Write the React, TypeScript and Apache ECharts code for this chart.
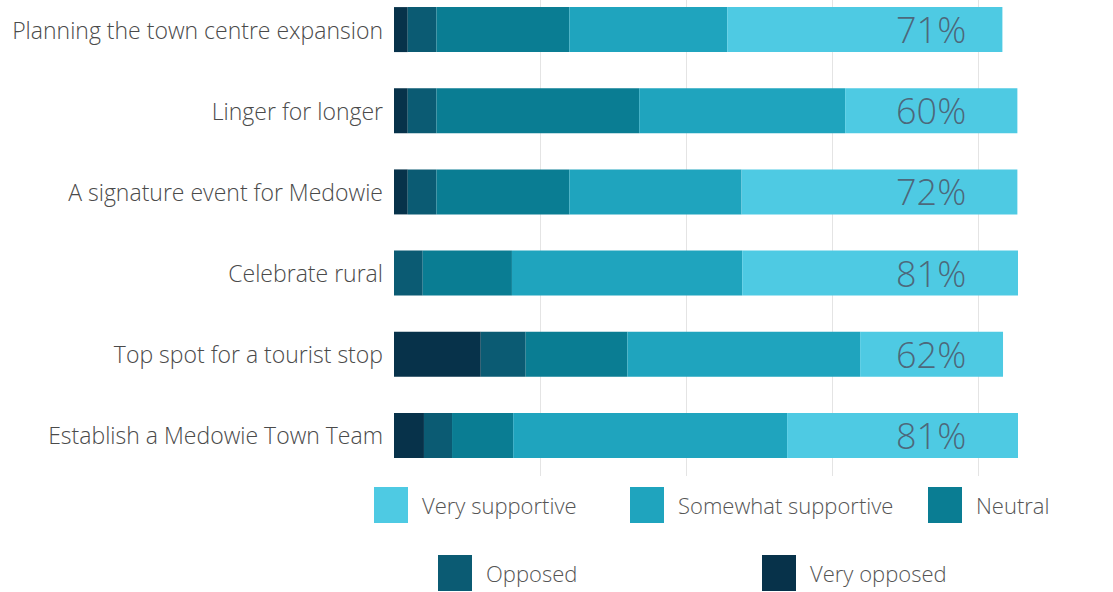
import React, { useEffect, useRef } from "react";
import * as echarts from "echarts";

const categories = [
  "Planning the town centre expansion",
  "Linger for longer",
  "A signature event for Medowie",
  "Celebrate rural",
  "Top spot for a tourist stop",
  "Establish a Medowie Town Team",
];
const veryOpposed = [2.2, 2.2, 2.2, 0, 13.9, 4.8];
const opposed = [4.6, 4.6, 4.6, 4.6, 7.2, 4.5];
const neutral = [21.3, 32.5, 21.3, 14.3, 16.3, 9.8];
const somewhatSupportive = [25.3, 33.0, 27.6, 36.9, 37.3, 43.9];
const verySupportive = [44.1, 27.6, 44.2, 44.2, 22.9, 37.2];
const supportLabels = ["71%", "60%", "72%", "81%", "62%", "81%"];

const seriesNames = ["Very opposed", "Opposed", "Neutral", "Somewhat supportive", "Very supportive"];
const seriesData = [veryOpposed, opposed, neutral, somewhatSupportive, verySupportive];
const colors = ["#07324a", "#0b5b73", "#0a7d93", "#1fa4be", "#4ecae3"];

const FONT = "'Open Sans', Roboto, 'Liberation Sans', Arial, sans-serif";
const SHIFT = 11;

export default function App() {
  const ref = useRef<HTMLDivElement>(null);
  useEffect(() => {
    const chart = echarts.init(ref.current!, undefined, { renderer: "svg" });
    const legendPos: Record<string, [number, number]> = {
      "Very supportive": [374, 487],
      "Somewhat supportive": [630, 487],
      Neutral: [928, 487],
      Opposed: [438, 555],
      "Very opposed": [762, 555],
    };
    const legends = Object.keys(legendPos).map((name) => ({
      data: [name],
      left: legendPos[name][0],
      top: legendPos[name][1] + SHIFT,
      padding: 0,
      itemWidth: 34,
      itemHeight: 36,
      icon: "rect",
      selectedMode: false,
      textStyle: {
        fontSize: 22,
        color: "#555",
        fontFamily: FONT,
        fontWeight: 300,
        padding: [0, 0, 0, 9],
      },
    }));
    const LABEL_X = 91.7;
    chart.setOption({
      animation: false,
      backgroundColor: "#ffffff",
      legend: legends,
      grid: { left: 394, right: 95, top: 0, bottom: 116, containLabel: false },
      xAxis: {
        type: "value",
        min: 0,
        max: 100,
        interval: 23.4,
        axisLabel: { show: false },
        axisLine: { show: false },
        axisTick: { show: false },
        splitLine: {
          show: true,
          lineStyle: {
            color: ["transparent", "#e4e4e4", "#e4e4e4", "#e4e4e4", "#e4e4e4", "transparent"],
            width: 1,
          },
        },
      },
      yAxis: {
        type: "category",
        data: categories,
        inverse: true,
        axisLine: { show: false },
        axisTick: { show: false },
        axisLabel: {
          fontSize: 23,
          color: "#4a4a4a",
          fontFamily: FONT,
          fontWeight: 300,
          margin: 11,
        },
      },
      series: [
        ...seriesNames.map((name, i) => ({
          name,
          type: "bar",
          stack: "total",
          barWidth: 45,
          data: seriesData[i],
          itemStyle: { color: colors[i] },
          emphasis: { disabled: true },
        })),
        {
          name: "labels",
          type: "scatter",
          symbolSize: 0,
          z: 10,
          data: categories.map((c, i) => [LABEL_X, i]),
          label: {
            show: true,
            position: "left",
            distance: 0,
            fontSize: 36,
            color: "#4d4d5e",
            fontFamily: FONT,
            fontWeight: 300,
            formatter: (p: any) => supportLabels[p.dataIndex],
          },
        },
      ],
    });
    return () => chart.dispose();
  }, []);
  return (
    <div
      ref={ref}
      style={{ position: "fixed", left: 0, top: -SHIFT, width: 1113, height: 592 + SHIFT, background: "#fff" }}
    />
  );
}
